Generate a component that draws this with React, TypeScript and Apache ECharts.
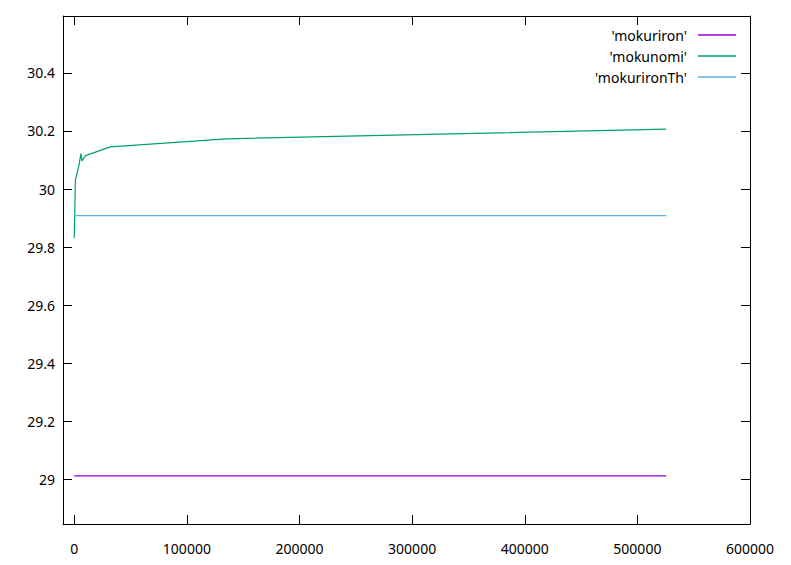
import React, { useEffect, useRef } from "react";
import * as echarts from "echarts";

const mokuriron: [number, number][] = [
  [0, 29.012],
  [525600, 29.012],
];
const mokunomi: [number, number][] = [
  [0, 29.831],
  [1000, 30.031],
  [4200, 30.082],
  [5900, 30.122],
  [6800, 30.097],
  [10000, 30.115],
  [32000, 30.145],
  [135000, 30.173],
  [525600, 30.206],
];
const mokurironTh: [number, number][] = [
  [0, 29.908],
  [525600, 29.908],
];
const xTicks = [0, 100000, 200000, 300000, 400000, 500000, 600000];
const yTicks = [29, 29.2, 29.4, 29.6, 29.8, 30, 30.2, 30.4];
const seriesNames = ["'mokuriron'", "'mokunomi'", "'mokurironTh'"];
const colors = ["#9400d3", "#009e73", "#56b4e9"];

const FONT = "Noto Sans";

export default function App() {
  const ref = useRef<HTMLDivElement>(null);
  useEffect(() => {
    document.body.style.margin = "0";
    const chart = echarts.init(ref.current!, null, { renderer: "svg" });
    const axisLine = { show: true, onZero: false, lineStyle: { color: "#000", width: 1 } };
    const tick = (vals: number[]) => ({
      show: true,
      inside: true,
      length: 9,
      customValues: vals,
      lineStyle: { color: "#000", width: 1 },
    });
    const xBase = { type: "value" as const, min: -10000, max: 600000, splitLine: { show: false } };
    const yBase = { type: "value" as const, min: 28.846, max: 30.596, splitLine: { show: false } };
    const legends = seriesNames.map((n, i) => ({
      data: [n],
      right: 55,
      top: 28 + i * 21,
      align: "right" as const,
      orient: "vertical" as const,
      icon: "rect",
      itemWidth: 38,
      itemHeight: 1.5,
      textStyle: { fontFamily: FONT, fontSize: 14, color: "#000", padding: [0, 6, 0, 0] },
      padding: 0,
    }));
    chart.setOption({
      animation: false,
      backgroundColor: "#fff",
      grid: { left: 63, right: 41, top: 16, bottom: 41, containLabel: false },
      legend: legends,
      xAxis: [
        {
          ...xBase,
          position: "bottom",
          axisLine,
          axisTick: tick(xTicks),
          axisLabel: {
            customValues: xTicks,
            margin: 17,
            fontFamily: FONT,
            fontSize: 14,
            color: "#000",
            formatter: (v: number) => String(v),
          },
        },
        {
          ...xBase,
          position: "top",
          axisLine,
          axisTick: tick(xTicks),
          axisLabel: { show: false },
        },
      ],
      yAxis: [
        {
          ...yBase,
          position: "left",
          axisLine,
          axisTick: tick(yTicks),
          axisLabel: {
            customValues: yTicks,
            margin: 8,
            fontFamily: FONT,
            fontSize: 14,
            color: "#000",
            formatter: (v: number) => String(Math.round(v * 10) / 10),
          },
        },
        {
          ...yBase,
          position: "right",
          axisLine,
          axisTick: tick(yTicks),
          axisLabel: { show: false },
        },
      ],
      series: [mokuriron, mokunomi, mokurironTh].map((d, i) => ({
        name: seriesNames[i],
        type: "line",
        data: d,
        showSymbol: false,
        symbol: "none",
        color: colors[i],
        lineStyle: { width: 1.2, color: colors[i] },
        xAxisIndex: 0,
        yAxisIndex: 0,
      })),
    });
    return () => chart.dispose();
  }, []);
  return <div ref={ref} style={{ width: 791, height: 565 }} />;
}
